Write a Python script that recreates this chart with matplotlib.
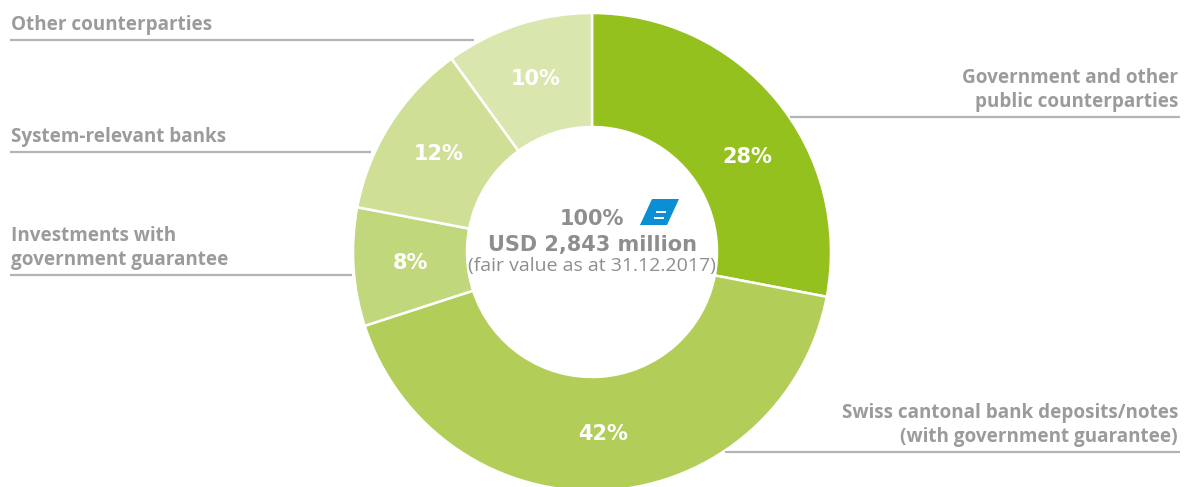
import numpy as np
import matplotlib.pyplot as plt
from matplotlib.patches import Polygon, Rectangle

# Portfolio breakdown by counterparty, clockwise from 12 o'clock
labels = ["Government and other\npublic counterparties",
          "Swiss cantonal bank deposits/notes\n(with government guarantee)",
          "Investments with\ngovernment guarantee",
          "System-relevant banks",
          "Other counterparties"]
shares = [28, 42, 8, 12, 10]
colors = ["#95c11f", "#b2ce59", "#c0d87b", "#cfe096", "#d9e6ae"]
total_label = "100%"
amount_label = "USD 2,843 million"
note_label = "(fair value as at 31.12.2017)"

W, H = 1189, 487
fig = plt.figure(figsize=(W / 100, H / 100), dpi=100)
ax = fig.add_axes([0, 0, 1, 1])

def py(y):
    # y measured from the top edge
    return H - y

cx, cy = 592, py(252)
r_out, r_in = 239, 125

wedges, _ = ax.pie(shares, colors=colors, startangle=90, counterclock=False,
                   center=(cx, cy), radius=r_out,
                   wedgeprops=dict(width=r_out - r_in, edgecolor="white", linewidth=1.8))
ax.set_xlim(0, W)
ax.set_ylim(0, H)
ax.set_aspect("equal")
ax.axis("off")

heavy = dict(family="DejaVu Sans", fontweight="bold")

# percentage labels inside the ring
nudge = [-8, 0, 0, 0, 0]
for w, s, dn in zip(wedges, shares, nudge):
    th = np.deg2rad((w.theta1 + w.theta2) / 2 + dn)
    r = 182
    ax.text(cx + r * np.cos(th), cy + r * np.sin(th), f"{s}%", color="white",
            fontsize=15, ha="center", va="center", **heavy)

# leader lines and category names
text_grey = "#9b9b9b"
line_grey = "#b4b4b4"
line_y = [117, 452, 275, 152, 40]
line_x = [(790, 1180), (725, 1180), (10, 352), (10, 371), (10, 474)]
for lab, ly, (x0, x1) in zip(labels, line_y, line_x):
    ax.plot([x0, x1], [py(ly), py(ly)], color=line_grey, lw=1.6, solid_capstyle="butt")
    rows = lab.split("\n")
    right = x0 > cx
    for i, row in enumerate(rows):
        base = ly - 10 - 24 * (len(rows) - 1 - i)
        ax.text(x1 - 2 if right else x0 + 1, py(base), row, color=text_grey,
                fontsize=13.6, fontweight="bold", family="Open Sans",
                ha="right" if right else "left", va="baseline")

# centre caption
centre_grey = "#8e8e8e"
ax.text(cx, py(225), total_label, color=centre_grey, fontsize=15,
        ha="center", va="baseline", **heavy)
ax.text(cx, py(251), amount_label, color=centre_grey, fontsize=15,
        ha="center", va="baseline", **heavy)
ax.text(cx, py(271), note_label, color=centre_grey, fontsize=14,
        family="Open Sans", ha="center", va="baseline")

# company mark next to the total
lx, ly0 = 640, 225
ax.add_patch(Polygon([(lx, py(ly0)), (lx + 27, py(ly0)), (lx + 39, py(ly0 - 26)), (lx + 12, py(ly0 - 26))],
                     closed=True, color="#0a8fd4", lw=0))
ax.add_patch(Rectangle((lx + 16, py(ly0 - 12)), 10, 2.5, color="white", lw=0))
ax.add_patch(Rectangle((lx + 14, py(ly0 - 6)), 10, 2.5, color="white", lw=0))

fig.savefig("out.png", dpi=100)
